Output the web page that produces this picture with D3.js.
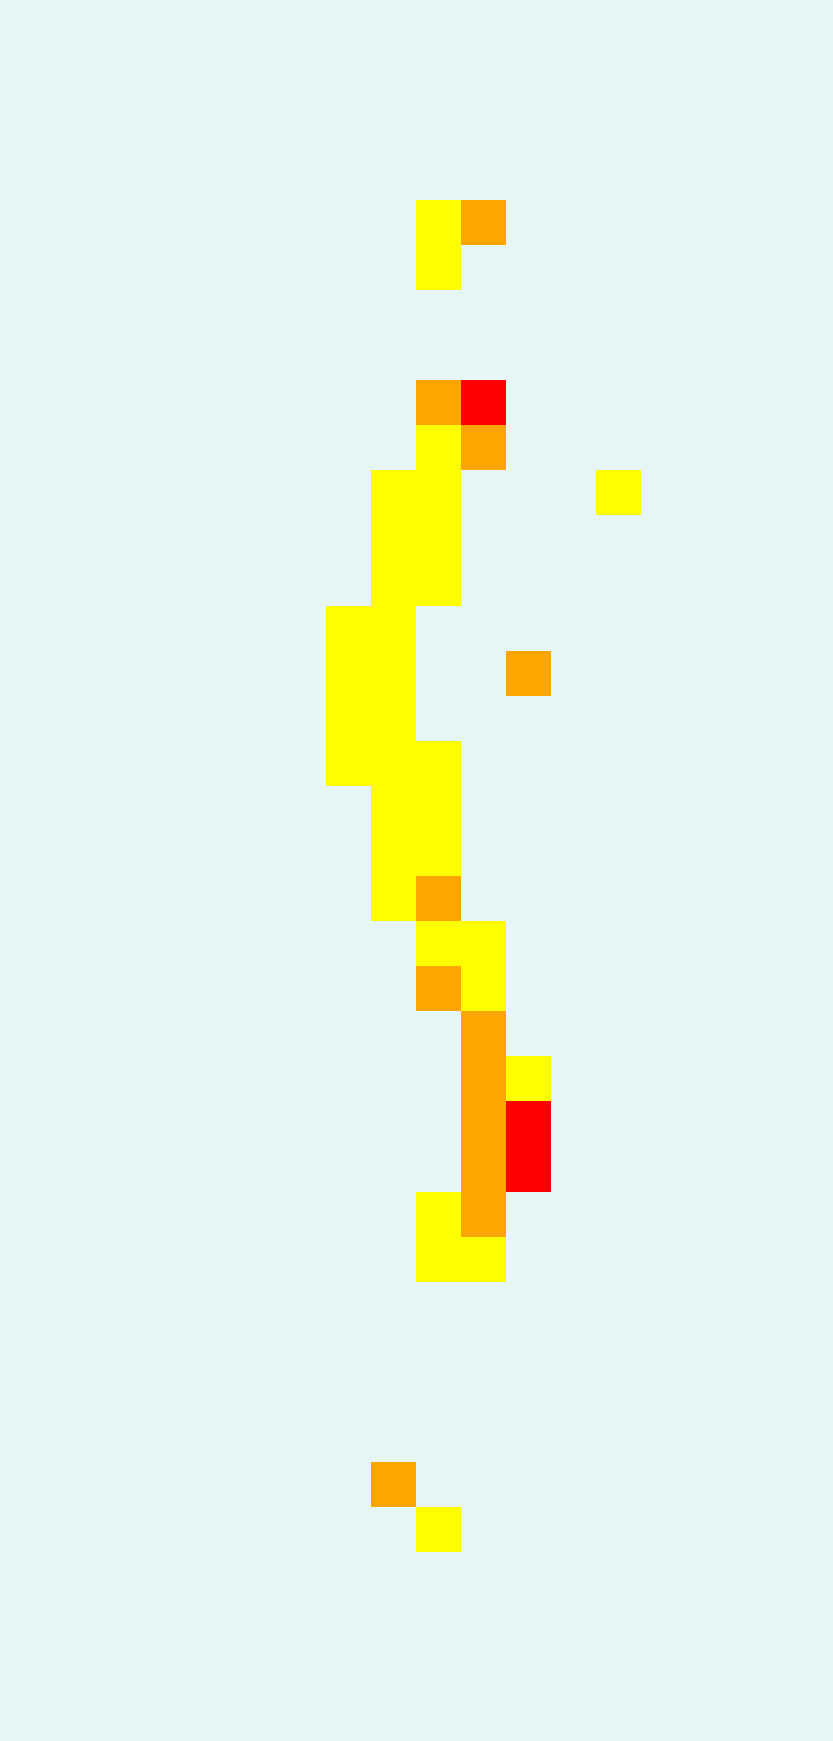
<!DOCTYPE html>
<html>
<head>
<meta charset="utf-8">
<script src="https://cdn.jsdelivr.net/npm/d3@7"></script>
<style>
  html, body { margin: 0; padding: 0; background: #e6f5f5; }
  svg { display: block; }
</style>
</head>
<body>
<svg id="chart" width="833" height="1741"></svg>
<script>
// Grid definition
const columns = d3.range(18);
const rows = d3.range(38);

// Cell data: row index, column index, level (1 = low, 2 = medium, 3 = high)
const cellRow   = [4, 4, 5, 8, 8, 9, 9, 10, 10, 10, 11, 11, 12, 12, 13, 13, 14, 14, 14, 15, 15, 16, 16, 16, 17, 17, 18, 18, 19, 19, 20, 20, 21, 21, 22, 23, 23, 24, 24, 25, 25, 26, 26, 27, 27, 32, 33];
const cellCol   = [9, 10, 9, 9, 10, 9, 10, 8, 9, 13, 8, 9, 8, 9, 7, 8, 7, 8, 11, 7, 8, 7, 8, 9, 8, 9, 8, 9, 8, 9, 9, 10, 9, 10, 10, 10, 11, 10, 11, 10, 11, 9, 10, 9, 10, 8, 9];
const cellLevel = [1, 2, 1, 2, 3, 1, 2, 1, 1, 1, 1, 1, 1, 1, 1, 1, 1, 1, 2, 1, 1, 1, 1, 1, 1, 1, 1, 1, 1, 2, 1, 1, 2, 1, 2, 2, 1, 2, 3, 2, 3, 1, 2, 1, 1, 2, 1];

const levels = [1, 2, 3];
const levelColors = ["#ffff00", "#ffa500", "#ff0000"];

const cells = cellRow.map((r, i) => ({ row: r, col: cellCol[i], level: cellLevel[i] }));

const svg = d3.select("#chart");
const W = 833, H = 1741;

svg.append("rect").attr("x", 0).attr("y", 0).attr("width", W).attr("height", H).attr("fill", "#e6f5f5");

const x = d3.scaleBand().domain(columns).range([11, 821]).paddingInner(0);
const y = d3.scaleBand().domain(rows).range([19.7, 19.7 + 38 * 45.07]).paddingInner(0);
const color = d3.scaleOrdinal().domain(levels).range(levelColors);

svg.append("g")
  .selectAll("rect")
  .data(cells)
  .join("rect")
  .attr("x", d => x(d.col))
  .attr("y", d => y(d.row))
  .attr("width", x.bandwidth())
  .attr("height", y.bandwidth())
  .attr("fill", d => color(d.level))
  .attr("shape-rendering", "crispEdges");
</script>
</body>
</html>
